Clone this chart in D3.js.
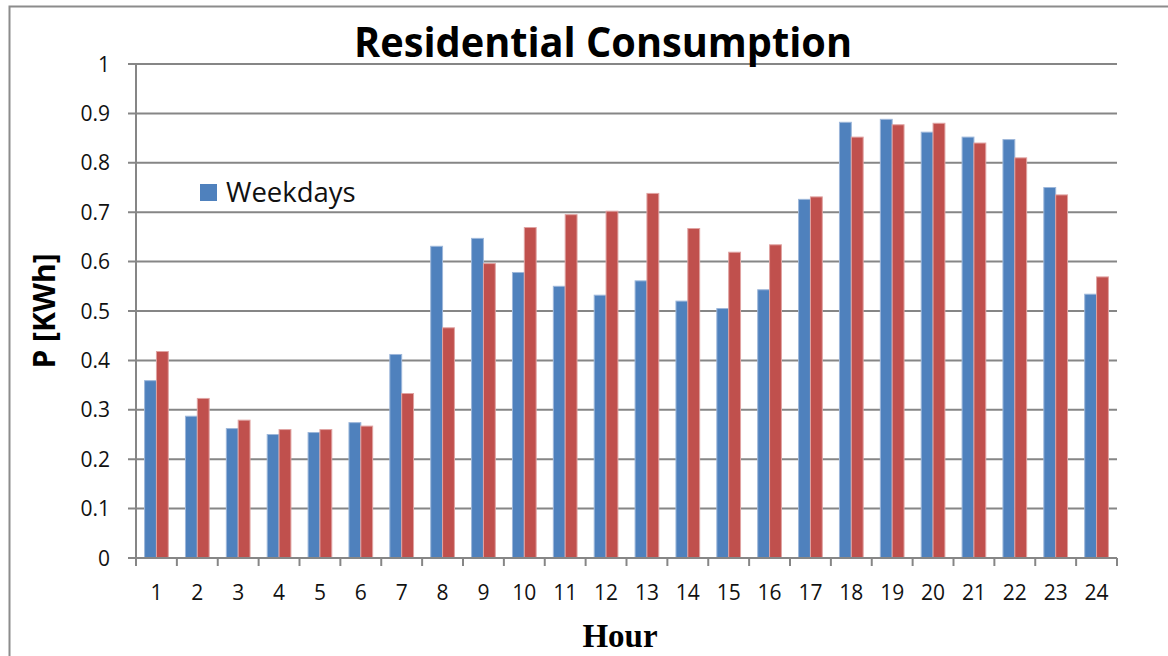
<!DOCTYPE html>
<html><head><meta charset="utf-8">
<script src="https://cdn.jsdelivr.net/npm/d3@7"></script>
<style>body{margin:0;background:#fff;}svg{display:block;}</style>
</head><body>
<svg id="c" width="1168" height="656"></svg>
<script>
const hours = ["1","2","3","4","5","6","7","8","9","10","11","12","13","14","15","16","17","18","19","20","21","22","23","24"];
const weekdays = [0.359,0.287,0.262,0.250,0.254,0.274,0.412,0.631,0.647,0.578,0.550,0.532,0.561,0.520,0.505,0.543,0.726,0.882,0.888,0.862,0.852,0.847,0.750,0.534];
const weekends = [0.418,0.323,0.279,0.260,0.260,0.267,0.333,0.466,0.596,0.669,0.695,0.702,0.738,0.667,0.619,0.634,0.731,0.852,0.877,0.880,0.840,0.810,0.735,0.569];
const yTicks = [0,0.1,0.2,0.3,0.4,0.5,0.6,0.7,0.8,0.9,1];
const seriesNames = ["Weekdays","Weekends"];
const colors = ["#4F81BD","#C0504D"];
const strokes = ["#9DB7DA","#E0A3A2"];

const svg = d3.select("#c");
const font = "'Open Sans', sans-serif";

// outer border
svg.append("rect").attr("x",9.5).attr("y",6.5).attr("width",1200).attr("height",700)
  .attr("fill","none").attr("stroke","#8c8c8c").attr("stroke-width",2);

const L=136, R=1117, T=64, B=558;
const x = d3.scaleBand().domain(hours).range([L,R]).paddingInner(0.42).paddingOuter(0.21);
const xb = d3.scaleBand().domain(hours).range([L,R]);
const y = d3.scaleLinear().domain([0,1]).range([B,T]);
const xs = d3.scaleBand().domain(seriesNames).range([0,x.bandwidth()]);

// gridlines
svg.append("g").selectAll("line").data(yTicks).join("line")
  .attr("x1",128).attr("x2",R).attr("y1",d=>y(d)).attr("y2",d=>y(d))
  .attr("stroke","#868686").attr("stroke-width",2);

// bars
const series = [weekdays, weekends];
series.forEach((vals,si)=>{
  svg.append("g").selectAll("rect").data(vals).join("rect")
    .attr("x",(d,i)=>x(hours[i])+xs(seriesNames[si]))
    .attr("y",d=>y(d))
    .attr("width",xs.bandwidth())
    .attr("height",d=>B-y(d))
    .attr("fill",colors[si])
    .attr("stroke",strokes[si]).attr("stroke-width",1);
});

// y axis line
svg.append("line").attr("x1",L).attr("x2",L).attr("y1",T).attr("y2",B+1)
  .attr("stroke","#868686").attr("stroke-width",2);
// x axis line
svg.append("line").attr("x1",L-1).attr("x2",R).attr("y1",B).attr("y2",B)
  .attr("stroke","#868686").attr("stroke-width",2);
// x ticks at boundaries
const bounds = hours.map(h=>xb(h)).concat([R]);
svg.append("g").selectAll("line").data(bounds).join("line")
  .attr("x1",d=>d).attr("x2",d=>d).attr("y1",B).attr("y2",B+8)
  .attr("stroke","#868686").attr("stroke-width",2);

// y tick labels
svg.append("g").selectAll("text").data(yTicks).join("text")
  .attr("x",110).attr("y",d=>y(d)+7.5)
  .attr("text-anchor","end").attr("font-family",font).attr("font-size",21)
  .attr("fill","#111").text(d=>d3.format("")(d));
// x tick labels
svg.append("g").selectAll("text").data(hours).join("text")
  .attr("x",d=>xb(d)+xb.bandwidth()/2).attr("y",600)
  .attr("text-anchor","middle").attr("font-family",font).attr("font-size",21)
  .attr("fill","#111").text(d=>d);

// title
svg.append("text").attr("x",603).attr("y",57).attr("text-anchor","middle")
  .attr("font-family",font).attr("font-weight","bold").attr("font-size",41)
  .attr("textLength",498).attr("lengthAdjust","spacingAndGlyphs")
  .attr("fill","#000").text("Residential Consumption");
// y title
svg.append("text").attr("transform","translate(55,311) rotate(-90)").attr("text-anchor","middle")
  .attr("font-family",font).attr("font-weight","bold").attr("font-size",30)
  .attr("fill","#000").text("P [KWh]");
// x title
svg.append("text").attr("x",620).attr("y",647).attr("text-anchor","middle")
  .attr("font-family","'Liberation Serif', 'Times New Roman', serif").attr("font-weight","bold").attr("font-size",33)
  .attr("fill","#000").text("Hour");

// legend (only first series shown)
svg.append("rect").attr("x",200).attr("y",184).attr("width",17).attr("height",17).attr("fill",colors[0]);
svg.append("text").attr("x",226).attr("y",202).attr("font-family",font).attr("font-size",27.5)
  .attr("fill","#111").text(seriesNames[0]);
</script>
</body></html>
